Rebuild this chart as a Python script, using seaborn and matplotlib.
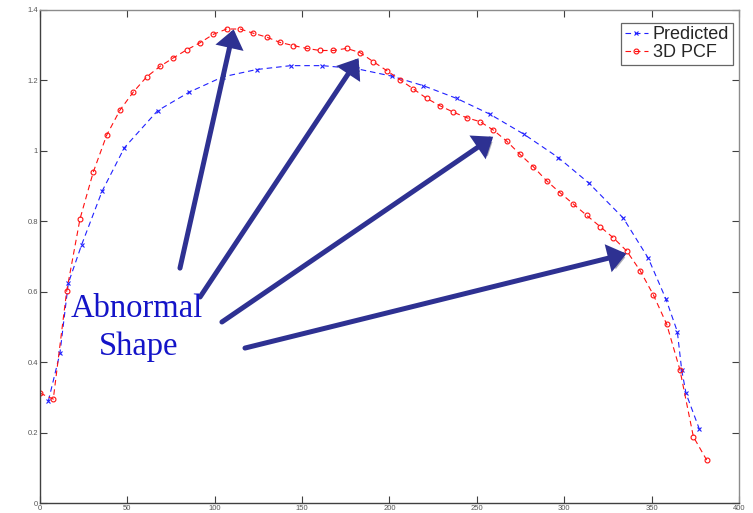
import matplotlib
matplotlib.use("Agg")
import matplotlib.pyplot as plt
import matplotlib.patheffects as pe
import seaborn as sns
import pandas as pd

# ---- data ----
pred_x = [4.8, 11.4, 16.2, 23.8, 35.5, 48.3, 67.3, 85.5, 104.5, 124.0, 143.6, 161.6,
          181.5, 201.4, 219.4, 238.4, 257.5, 277.0, 296.6, 314.2, 333.8, 348.1,
          358.2, 364.7, 367.2, 369.7, 377.3]
pred_y = [0.290, 0.425, 0.624, 0.733, 0.885, 1.009, 1.114, 1.167, 1.210, 1.231, 1.242, 1.242,
          1.233, 1.212, 1.185, 1.149, 1.104, 1.047, 0.981, 0.908, 0.809, 0.695,
          0.579, 0.487, 0.378, 0.311, 0.210]

pcf_x = [0.0, 7.6, 15.3, 22.9, 30.5, 38.2, 45.8, 53.4, 61.0, 68.7, 76.3, 84.0, 91.6,
         99.2, 106.8, 114.5, 122.1, 129.7, 137.3, 145.0, 152.6, 160.2, 167.9, 175.5,
         183.1, 190.8, 198.4, 206.0, 213.6, 221.3, 228.9, 236.5, 244.2, 251.8, 259.4,
         267.0, 274.7, 282.3, 289.9, 297.6, 305.2, 312.8, 320.5, 328.1, 335.7, 343.4,
         351.0, 358.6, 366.2, 373.9, 381.5]
pcf_y = [0.312, 0.295, 0.603, 0.807, 0.940, 1.045, 1.116, 1.167, 1.210, 1.240, 1.264,
         1.287, 1.307, 1.331, 1.346, 1.346, 1.334, 1.323, 1.308, 1.299, 1.291, 1.285,
         1.285, 1.291, 1.279, 1.253, 1.228, 1.202, 1.176, 1.149, 1.128, 1.110, 1.094,
         1.083, 1.059, 1.028, 0.990, 0.955, 0.915, 0.881, 0.849, 0.817, 0.785, 0.753,
         0.716, 0.660, 0.591, 0.508, 0.378, 0.188, 0.122]

x_ticks = [0, 50, 100, 150, 200, 250, 300, 350, 400]
y_ticks = [0, 0.2, 0.4, 0.6, 0.8, 1.0, 1.2, 1.4]
y_tick_labels = ["0", "0.2", "0.4", "0.6", "0.8", "1", "1.2", "1.4"]

series_labels = ["Predicted", "3D PCF"]
annot_text = ["Abnormal", "Shape"]
# arrows: (tail_x, tail_y) -> (tip_x, tip_y) in data units
arrow_tails = [(80.1, 0.667), (91.6, 0.585), (104.1, 0.514), (117.3, 0.440)]
arrow_tips = [(110.8, 1.345), (182.3, 1.263), (259.3, 1.040), (335.6, 0.708)]

# ---- plot ----
sns.set_style("white")
plt.rcParams["font.family"] = ["Liberation Sans", "DejaVu Sans"]

fig = plt.figure(figsize=(7.53, 5.13), dpi=100)
ax = fig.add_axes([40 / 753, 1 - 503 / 513, (739 - 40) / 753, (503 - 10) / 513])

df_pred = pd.DataFrame({"x": pred_x, "y": pred_y})
df_pcf = pd.DataFrame({"x": pcf_x, "y": pcf_y})

blue = "#2020ff"
red = "#ff1010"
sns.lineplot(data=df_pred, x="x", y="y", ax=ax, color=blue, linestyle=(0, (5, 3.5)),
             linewidth=0.8, marker="x", markersize=3.5, markeredgewidth=0.8,
             markeredgecolor=blue, label=series_labels[0], sort=False)
sns.lineplot(data=df_pcf, x="x", y="y", ax=ax, color=red, linestyle=(0, (5, 3.5)),
             linewidth=0.8, marker="o", markersize=3.5, markerfacecolor="none",
             markeredgewidth=0.8, markeredgecolor=red,
             label=series_labels[1], sort=False)

ax.set_xlim(0, 400)
ax.set_ylim(0, 1.4)
ax.set_xticks(x_ticks)
ax.set_xticklabels([str(t) for t in x_ticks])
ax.set_yticks(y_ticks)
ax.set_yticklabels(y_tick_labels)
ax.set_xlabel("")
ax.set_ylabel("")

ax.tick_params(direction="in", length=5, width=0.8, colors="#404040",
               labelsize=5.5, labelcolor="#555555", pad=1.5,
               top=True, right=True, bottom=True, left=True)
for side in ["left", "bottom"]:
    ax.spines[side].set_color("#404040")
    ax.spines[side].set_linewidth(1.0)
for side in ["top", "right"]:
    ax.spines[side].set_color("#8c8c8c")
    ax.spines[side].set_linewidth(1.0)
    ax.spines[side].set_visible(True)

leg = ax.legend(loc="upper right", bbox_to_anchor=(0.9985, 0.985), fontsize=13,
                frameon=True, fancybox=False, shadow=False, handlelength=1.3,
                handletextpad=0.25, borderpad=0.2, labelspacing=0.05,
                borderaxespad=0.3)
leg.get_frame().set_edgecolor("#404040")
leg.get_frame().set_linewidth(0.9)

# arrows
for (tx, ty), (hx, hy) in zip(arrow_tails, arrow_tips):
    ax.annotate("", xy=(hx, hy), xytext=(tx, ty),
                arrowprops=dict(arrowstyle="-|>,head_length=0.55,head_width=0.42",
                                lw=3.6, color="#2E3192", mutation_scale=16,
                                shrinkA=0, shrinkB=0, joinstyle="miter",
                                path_effects=[pe.SimplePatchShadow(offset=(2, -2), alpha=0.35),
                                              pe.Normal()]))

fig.text(137 / 753, 1 - 317 / 513, annot_text[0], ha="center", va="baseline",
         fontsize=23.5, color="#1414c8", family=["Liberation Serif", "DejaVu Serif"])
fig.text(139 / 753, 1 - 355 / 513, annot_text[1], ha="center", va="baseline",
         fontsize=23.5, color="#1414c8", family=["Liberation Serif", "DejaVu Serif"])

fig.savefig("out.png", dpi=100)
